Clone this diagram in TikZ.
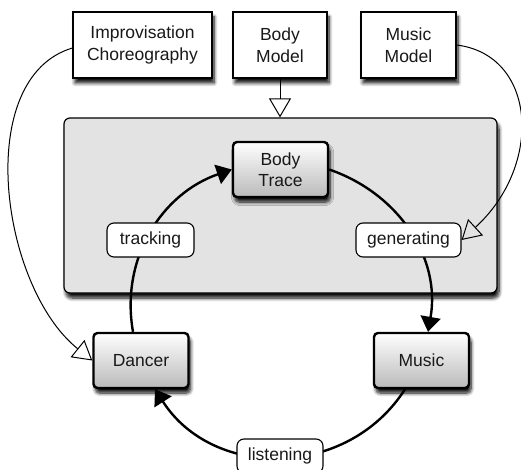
\documentclass[tikz,border=0pt]{standalone}
\usepackage{fontspec}
\setmainfont{Liberation Sans}
\usetikzlibrary{arrows.meta,shadows.blur,calc}

\begin{document}
\begin{tikzpicture}[x=1pt,y=1pt,
  every node/.style={font=\fontsize{17.5}{21.5}\selectfont, align=center, inner sep=0pt, text=black!90},
  shadowed/.style={blur shadow={shadow xshift=2pt, shadow yshift=-5pt, shadow blur radius=3.5pt, shadow blur steps=8, shadow opacity=95}},
  topbox/.style={draw, line width=1.3pt, fill=white, minimum height=66pt, shadowed},
  panel/.style={draw, line width=1.2pt, fill=black!11, rounded corners=6pt, shadowed},
  agent/.style={draw, line width=2.4pt, rounded corners=4pt, top color=white, bottom color=black!27, minimum height=55pt, minimum width=95pt, shadowed},
  verb/.style={draw, line width=1.1pt, rounded corners=7pt, fill=white, minimum height=34pt},
  flow/.style={line width=2.4pt, -{Triangle[length=15pt,width=20pt]}},
  feed/.style={line width=1pt, -{Triangle[open,length=19pt,width=22pt,line width=1pt]}}
]
\useasboundingbox (0,0) rectangle (521,-470);

% top boxes
\node[topbox, minimum width=139pt] (IC) at (142.5,-45) {Improvisation\\Choreography};
\node[topbox, minimum width=94pt] (BM) at (280,-45) {Body\\Model};
\node[topbox, minimum width=95pt] (MM) at (408.5,-45) {Music\\Model};

% panel
\node[panel, minimum width=433pt, minimum height=175pt] (P) at (280.5,-205.5) {};

% agents
\node[agent] (BT) at (280.5,-169.5) {Body\\Trace};
\node[agent] (D) at (141,-360.5) {Dancer};
\node[agent] (M) at (421.5,-360.5) {Music};

% cycle
\draw[flow] ([xshift=-8pt]D.north) to[out=100,in=199] (BT.west);
\draw[flow] (BT.east) to[out=-19,in=80] ([xshift=6.5pt]M.north);
\draw[flow] ([xshift=-16.5pt]M.south) to[out=-122.6,in=-57.4,looseness=1.1] ([xshift=14pt]D.south);

% verbs
\node[verb, minimum width=87pt] (tr) at (150.5,-240) {tracking};
\node[verb, minimum width=105pt] (gen) at (408.5,-240) {generating};
\node[verb, minimum width=86pt] (li) at (280,-456) {listening};

% feeds
\draw[feed] (BM.south) -- (BM.south |- P.north);
\draw[feed] ([yshift=-3pt]IC.west) .. controls +(-100,-30) and +(-92,74) .. (D.west);
\draw[feed] (MM.east) .. controls +(80,-10) and +(82,75) .. (gen.east);
\end{tikzpicture}
\end{document}
